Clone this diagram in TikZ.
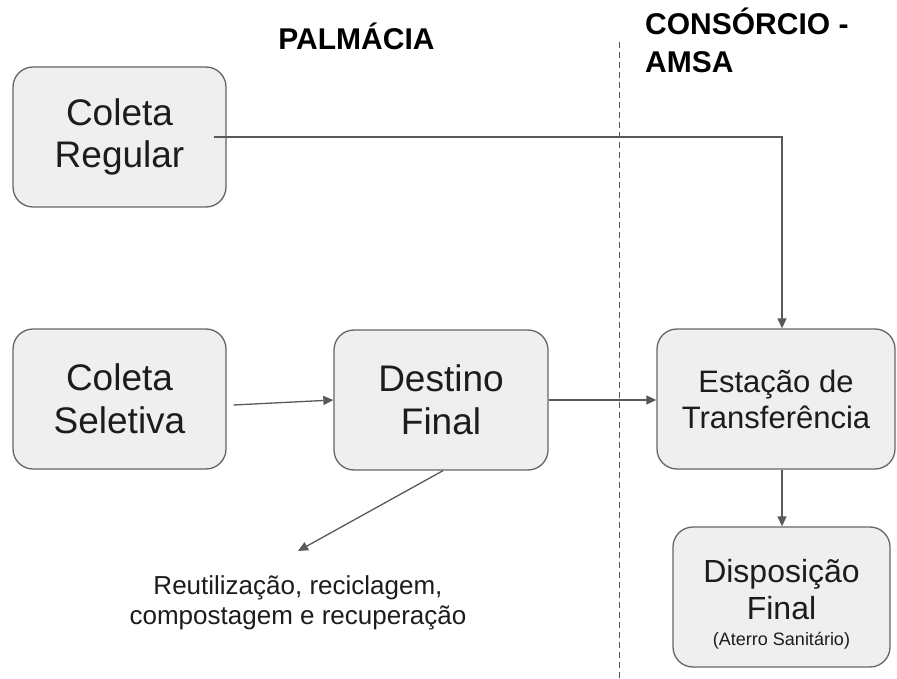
\documentclass[tikz,border=0pt]{standalone}
\usepackage{fontspec}
\setmainfont{Liberation Sans}
\usetikzlibrary{arrows.meta}
\definecolor{boxfill}{HTML}{EFEFEF}
\definecolor{boxline}{HTML}{666666}
\definecolor{arrcol}{HTML}{595959}
\definecolor{txt}{HTML}{1C1C1C}
\definecolor{dashcol}{HTML}{555555}
\tikzset{
  procbox/.style={draw=boxline, line width=1.3pt, fill=boxfill, rounded corners=20pt,
    minimum width=#1, minimum height=140pt, inner sep=0pt, align=center, text=txt},
  bigtxt/.style={font=\fontsize{37}{42.5}\selectfont},
  midtxt/.style={font=\fontsize{31}{36}\selectfont},
  disptxt/.style={font=\fontsize{32}{37}\selectfont},
  arr/.style={draw=arrcol, line width=1.3pt, -{Triangle[length=10pt,width=9pt]}},
  header/.style={font=\bfseries\fontsize{30}{40}\selectfont, inner sep=0pt, text=black},
  divider/.style={draw=dashcol, line width=1pt, dash pattern=on 6pt off 4pt},
  note/.style={font=\fontsize{26}{30}\selectfont, inner sep=0pt, align=center, text=txt},
}
\begin{document}
\begin{tikzpicture}[x=1pt,y=-1pt]
\useasboundingbox (0,0) rectangle (897,679);

% headers
\node[header, anchor=base] (hpal) at (356.5,50) {PALMÁCIA};
\node[header, anchor=base west] (hcon1) at (645,35) {CONSÓRCIO -};
\node[header, anchor=base west] (hcon2) at (645,73) {AMSA};

% divider
\coordinate (dtop) at (619,42);
\coordinate (dbot) at (619,679);
\draw[divider] (dtop) -- (dbot);

% boxes
\node[procbox=213pt, bigtxt] (cr) at (119.5,137) {Coleta\\Regular};
\node[procbox=213pt, bigtxt] (cs) at (119.5,399) {Coleta\\Seletiva};
\node[procbox=214pt, bigtxt] (df) at (441,400) {Destino\\Final};
\node[procbox=238pt, midtxt] (et) at (776,399) {Estação de\\Transferência};
\node[procbox=217pt, disptxt] (dp) at (781.5,597)
  {\rule{0pt}{37pt}Disposição\\Final\\[-11pt]{\fontsize{18}{20}\selectfont (Aterro Sanitário)}};

% note
\node[note] (rt) at (298,603) {Reutilização, reciclagem,\\compostagem e recuperação};
\coordinate (rtip) at (298,551);

% connectors
\draw[arr] ([xshift=-13pt]cr.east) -| ([xshift=6pt]et.north);
\draw[arr] ([xshift=6pt]et.south) -- ([xshift=6pt]et.south |- dp.north);
\draw[arr] ([xshift=7pt,yshift=-6pt]cs.east) -- (df.west);
\draw[arr] (df.east) -- (df.east -| et.west);
\draw[arr] ([xshift=2pt]df.south) -- (rtip);
\end{tikzpicture}
\end{document}
